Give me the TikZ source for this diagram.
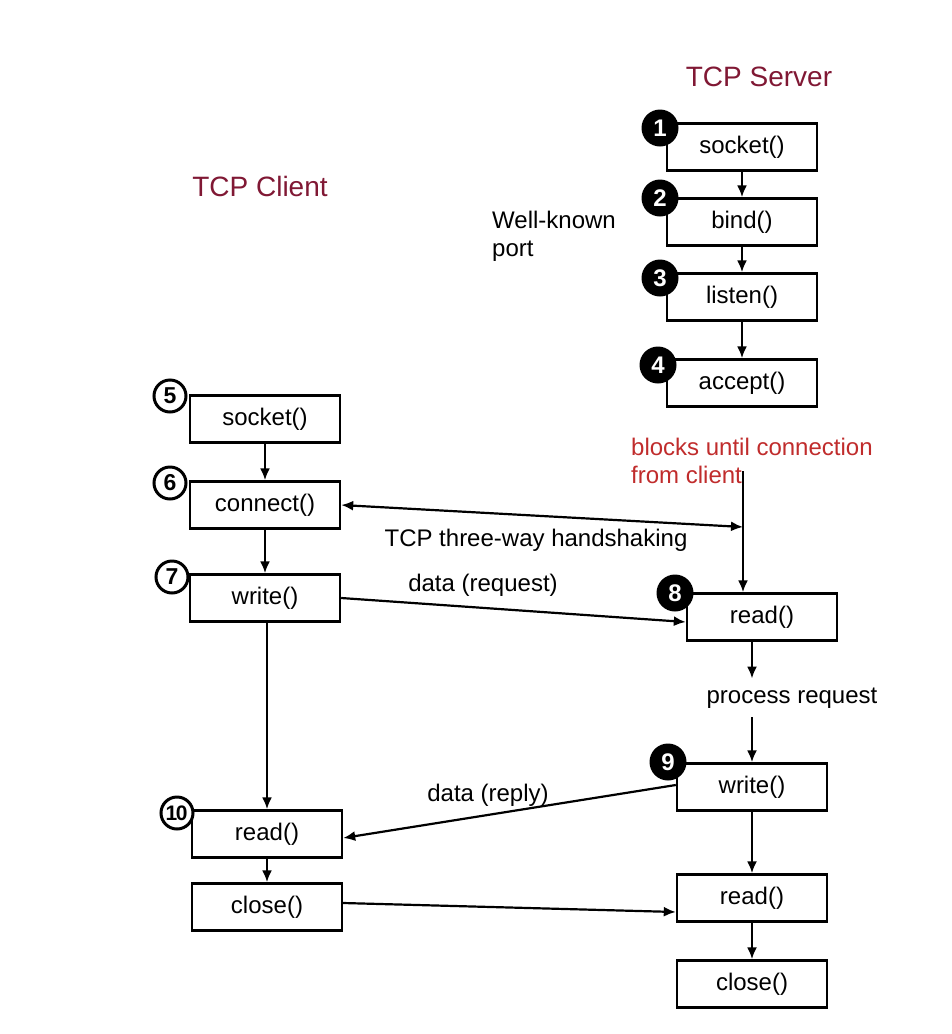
\documentclass[tikz,border=0pt]{standalone}
\usepackage{fontspec}
\setmainfont{Liberation Sans}
\usepackage{xcolor}
\usetikzlibrary{arrows.meta}
\definecolor{titlered}{RGB}{128,24,52}
\definecolor{noteRed}{RGB}{192,44,44}
\begin{document}
\begin{tikzpicture}[x=1pt,y=-1pt]
\tikzset{>={Latex[width=10pt,length=12pt]}}
\tikzstyle{call} =[draw, line width=2.4pt, minimum width=150pt, minimum height=47pt, inner sep=0pt, font=\fontsize{24}{28}\selectfont]
\tikzstyle{txt} =[inner sep=2pt, font=\fontsize{24}{28}\selectfont]
\tikzstyle{srvnum} =[circle, fill=black, text=white, inner sep=0pt, minimum size=37pt, font=\fontsize{24}{24}\selectfont\bfseries]
\tikzstyle{clinum} =[circle, draw, fill=white, line width=3pt, inner sep=0pt, minimum size=32pt, font=\fontsize{23}{23}\selectfont\bfseries]
\tikzstyle{flow} =[->, line width=2.2pt]
\useasboundingbox (0,0) rectangle (952,1034);
% server side
\node[call](s1) at (742,147){socket()};
\node[call](s2) at (742,222){bind()};
\node[call](s3) at (742,297){listen()};
\node[call](s4) at (742,383){accept()};
\node[call](s8) at (762,617){read()};
\node[call](s9) at (752,787){write()};
\node[call](s11) at (752,898){read()};
\node[call](s12) at (752,984){close()};
% client side
\node[call](c5) at (265,419){socket()};
\node[call](c6) at (265,505){connect()};
\node[call](c7) at (265,598){write()};
\node[call](c10) at (267,834){read()};
\node[call](c11) at (267,907){close()};
% numbers
\node[srvnum](n1) at (660,128){1};
\node[srvnum](n2) at (660,198){2};
\node[srvnum](n3) at (660,278){3};
\node[srvnum](n4) at (658,365){4};
\node[srvnum](n8) at (675,593){8};
\node[srvnum](n9) at (668,762){9};
\node[clinum](n5) at (170,396){5};
\node[clinum](n6) at (170,483){6};
\node[clinum](n7) at (172,577){7};
\node[clinum,font=\fontsize{21}{21}\selectfont\bfseries](n10) at (177,813){\kern-1pt1\kern-1.5pt0};
% labels
\node[txt,text=titlered,font=\fontsize{28}{32}\selectfont](srv) at (759,77){TCP Server};
\node[txt,text=titlered,font=\fontsize{28}{32}\selectfont](cli) at (260,186){TCP Client};
\node[txt,anchor=west,align=left](wk) at (490,236){Well-known\\port};
\node[txt,anchor=west,align=left,text=noteRed](blk) at (629,461){blocks until connection\\from client};
\node[txt](hsk) at (536,540){TCP three-way handshaking};
\node[txt](req) at (483,585){data (request)};
\node[txt,inner sep=9pt](proc) at (792,698){process request};
\node[txt](rep) at (488,795){data (reply)};
\coordinate (b0) at (743,471);
\coordinate (hs) at (743,527);
% connectors
\draw[flow] (s1) -- (s2);
\draw[flow] (s2) -- (s3);
\draw[flow] (s3) -- (s4);
\draw[flow] (b0) -- (b0 |- s8.north);
\draw[<->, line width=2.2pt] (c6.east) -- (hs);
\draw[flow] (c5) -- (c6);
\draw[flow] (c6) -- (c7);
\draw[flow] (c7.east) -- ([yshift=-5pt]s8.west);
\draw[flow] (s8.south -| s9.north) -- (proc.north -| s9.north);
\draw[flow] (proc.south -| s9.north) -- (s9.north);
\draw[flow] (s9) -- (s11);
\draw[flow] (s11) -- (s12);
\draw[flow] (c7.south -| c10.north) -- (c10.north);
\draw[flow] (c10) -- (c11);
\draw[flow] ([yshift=2pt]s9.west) -- ([yshift=-4pt]c10.east);
\draw[flow] ([yshift=4pt]c11.east) -- ([yshift=-14pt]s11.west);
\end{tikzpicture}
\end{document}
